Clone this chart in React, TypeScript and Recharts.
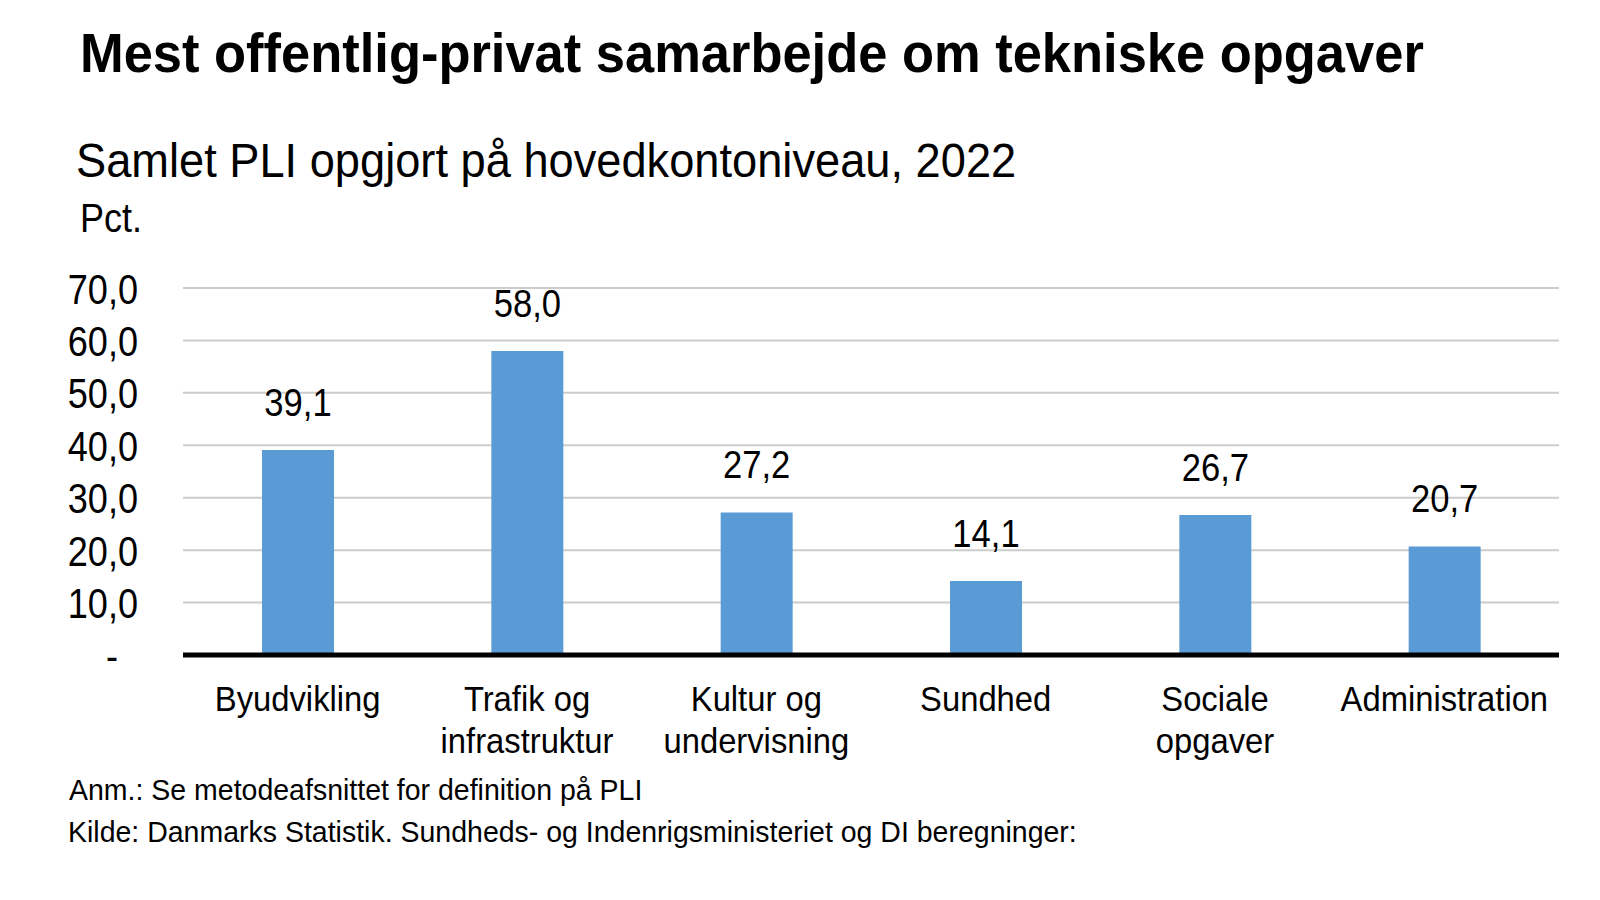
import React from "react";
import { Bar, BarChart, CartesianGrid, LabelList, XAxis, YAxis } from "recharts";

// Excel-like blue, grey grid, black baseline
const COLORS = {
  bar: "#5b9bd5",
  grid: "#cccccc",
  text: "#000000",
};

const FONT = '"Liberation Sans", Arial, sans-serif';

const categories = [
  "Byudvikling",
  "Trafik og\ninfrastruktur",
  "Kultur og\nundervisning",
  "Sundhed",
  "Sociale\nopgaver",
  "Administration",
];
const values = [39.1, 58.0, 27.2, 14.1, 26.7, 20.7];
const yTicks = [0, 10, 20, 30, 40, 50, 60, 70];

const rows = categories.map((label, i) => ({ label, value: values[i] }));

const fmt = (v: number) => v.toFixed(1).replace(".", ",");

function YTick(props: any) {
  const { x, y, payload } = props;
  const v = payload.value as number;
  // Excel accounting format shows zero as a dash, padded from the right
  const shift = v === 0 ? -20 : 0;
  return (
    <g transform={`translate(${x + shift},${y + 15.5}) scale(0.84,1)`}>
      <text x={0} y={0} textAnchor="end" fontSize={43} fontFamily={FONT} fill={COLORS.text}>
        {v === 0 ? "-" : fmt(v)}
      </text>
    </g>
  );
}

function XTick(props: any) {
  const { x, y, payload } = props;
  const lines = String(payload.value).split("\n");
  return (
    <g transform={`translate(${x},${y})`}>
      {lines.map((line, i) => (
        <g key={i} transform={`translate(0,${i * 42}) scale(0.91,1)`}>
          <text x={0} y={0} textAnchor="middle" fontSize={36} fontFamily={FONT} fill={COLORS.text}>
            {line}
          </text>
        </g>
      ))}
    </g>
  );
}

function ValueLabel(props: any) {
  const { x, y, width, value } = props;
  return (
    <g transform={`translate(${x + width / 2},${y - 34}) scale(0.876,1)`}>
      <text x={0} y={0} textAnchor="middle" fontSize={39.5} fontFamily={FONT} fill={COLORS.text}>
        {fmt(value)}
      </text>
    </g>
  );
}

function Txt({
  x,
  y,
  size,
  sx = 1,
  bold = false,
  children,
}: {
  x: number;
  y: number;
  size: number;
  sx?: number;
  bold?: boolean;
  children: React.ReactNode;
}) {
  return (
    <g transform={`translate(${x},${y}) scale(${sx},1)`}>
      <text
        x={0}
        y={0}
        fontSize={size}
        fontFamily={FONT}
        fontWeight={bold ? 700 : 400}
        fill={COLORS.text}
      >
        {children}
      </text>
    </g>
  );
}

export default function App() {
  return (
    <div
      style={{
        position: "absolute",
        left: 0,
        top: 0,
        width: 1600,
        height: 900,
        background: "#ffffff",
      }}
    >
      <BarChart
        width={1600}
        height={900}
        data={rows}
        margin={{ top: 288, right: 41, bottom: 95, left: 0 }}
      >
        <CartesianGrid vertical={false} stroke={COLORS.grid} strokeWidth={2} />
        <YAxis
          type="number"
          domain={[0, 70]}
          ticks={yTicks}
          width={183}
          axisLine={false}
          tickLine={false}
          tickSize={0}
          tickMargin={45}
          tick={YTick}
        />
        <Bar dataKey="value" fill={COLORS.bar} barSize={72} isAnimationActive={false}>
          <LabelList dataKey="value" content={ValueLabel} />
        </Bar>
        <XAxis
          dataKey="label"
          interval={0}
          height={150}
          axisLine={{ stroke: "#000000", strokeWidth: 5 }}
          tickLine={false}
          tickSize={0}
          tickMargin={56}
          tick={XTick}
        />
      </BarChart>

      <svg
        width={1600}
        height={900}
        style={{ position: "absolute", left: 0, top: 0, pointerEvents: "none" }}
      >
        <Txt x={80} y={72} size={55} sx={0.954} bold>
          Mest offentlig-privat samarbejde om tekniske opgaver
        </Txt>
        <Txt x={76} y={177} size={49} sx={0.923}>
          Samlet PLI opgjort på hovedkontoniveau, 2022
        </Txt>
        <Txt x={80} y={232} size={40} sx={0.9}>
          Pct.
        </Txt>
        <Txt x={69} y={800} size={30} sx={0.95}>
          Anm.: Se metodeafsnittet for definition på PLI
        </Txt>
        <Txt x={68} y={841.5} size={30} sx={0.95}>
          Kilde: Danmarks Statistik. Sundheds- og Indenrigsministeriet og DI beregninger:
        </Txt>
      </svg>
    </div>
  );
}
